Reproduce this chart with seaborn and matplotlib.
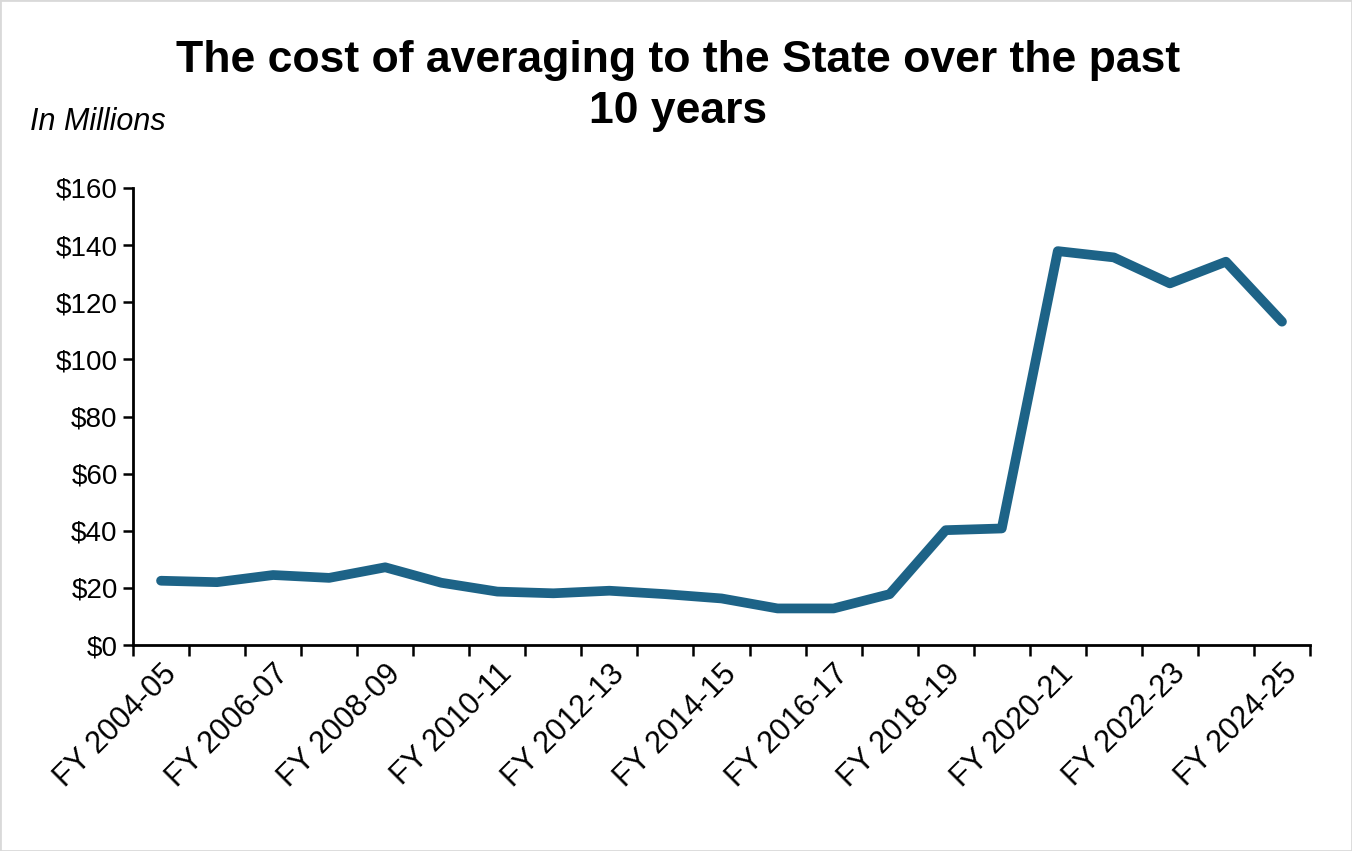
import matplotlib.pyplot as plt
import matplotlib.patches as patches
import seaborn as sns
import pandas as pd
import numpy as np

# Fiscal years and cost of averaging (in millions)
years = ["FY 2004-05", "FY 2005-06", "FY 2006-07", "FY 2007-08", "FY 2008-09",
         "FY 2009-10", "FY 2010-11", "FY 2011-12", "FY 2012-13", "FY 2013-14",
         "FY 2014-15", "FY 2015-16", "FY 2016-17", "FY 2017-18", "FY 2018-19",
         "FY 2019-20", "FY 2020-21", "FY 2021-22", "FY 2022-23", "FY 2023-24",
         "FY 2024-25"]
cost = [22.5, 22.0, 24.5, 23.5, 27.2, 21.8, 18.7, 18.1, 19.0, 17.8,
        16.3, 12.8, 12.8, 17.8, 40.2, 40.8, 137.9, 135.7, 126.6, 134.2, 113.2]
y_ticks = [0, 20, 40, 60, 80, 100, 120, 140, 160]

line_color = "#1D6387"

sns.set_style("white")
plt.rcParams['font.family'] = ['Liberation Sans', 'DejaVu Sans']
plt.rcParams['text.color'] = 'black'
plt.rcParams['xtick.color'] = 'black'
plt.rcParams['ytick.color'] = 'black'

df = pd.DataFrame({"pos": np.arange(len(years)), "cost": cost})

fig = plt.figure(figsize=(13.52, 8.51), dpi=100)
ax = fig.add_axes([133 / 1352, 1 - 645 / 851, (1310 - 133) / 1352, (645 - 188) / 851])

sns.lineplot(data=df, x="pos", y="cost", ax=ax, color=line_color,
             linewidth=7, solid_capstyle="round", solid_joinstyle="round")

# Axis limits and ticks
ax.set_xlim(-0.5, len(years) - 0.5)
ax.set_ylim(0, 160)
ax.set_yticks(y_ticks)
ax.set_yticklabels([f"${v}" for v in y_ticks], fontsize=20)

# Category boundaries get the tick marks, every other category gets a label
ax.set_xticks(np.arange(-0.5, len(years), 1.0))
ax.set_xticklabels([])
label_pos = np.arange(0, len(years), 2)
ax.set_xticks(label_pos, minor=True)
ax.set_xticklabels([years[i] for i in label_pos], minor=True, fontsize=22,
                   rotation=45, ha="right", va="top", rotation_mode="anchor")

ax.tick_params(axis="x", which="major", direction="out", length=8, width=1.8,
               color="black", bottom=True)
ax.tick_params(axis="x", which="minor", length=0, pad=10, bottom=True)
ax.tick_params(axis="y", direction="out", length=7, width=1.8, color="black",
               left=True, pad=4)

ax.set_xlabel("")
ax.set_ylabel("")

for side in ["top", "right"]:
    ax.spines[side].set_visible(False)
for side in ["left", "bottom"]:
    ax.spines[side].set_color("black")
    ax.spines[side].set_linewidth(2)

# Titles
fig.text(0.5015, 1 - 86 / 851, "The cost of averaging to the State over the past\n10 years",
         ha="center", va="center", fontsize=32, fontweight="bold", linespacing=1.3)
fig.text(30 / 1352, 1 - 122 / 851, "In Millions", ha="left", va="center",
         fontsize=22, style="italic")

# Thin light border around the picture
fig.add_artist(patches.Rectangle((0, 0), 1, 1, transform=fig.transFigure,
                                 fill=False, edgecolor="#d9d9d9", linewidth=2))

plt.savefig("out.png", dpi=100)
